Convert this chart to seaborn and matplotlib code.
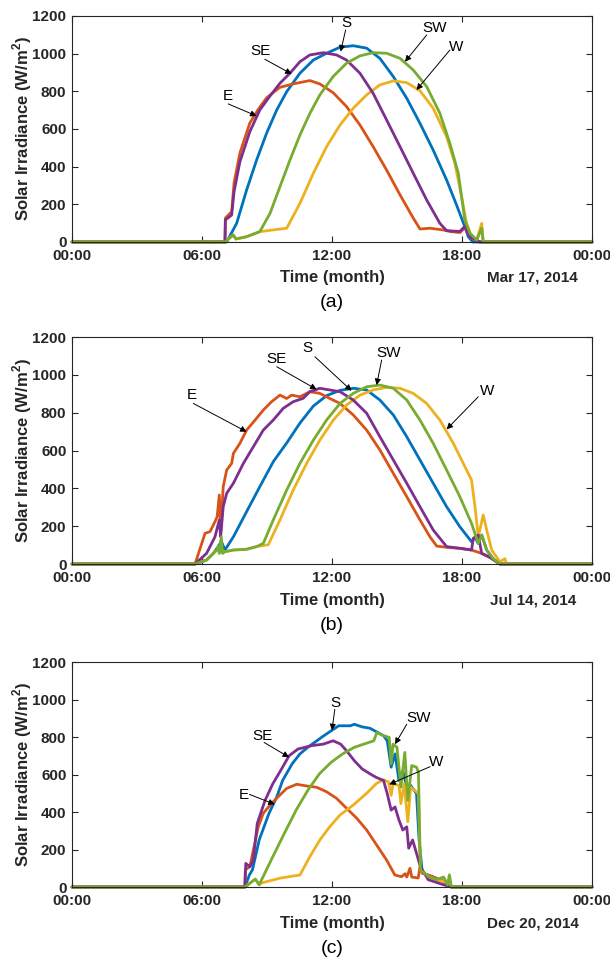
import matplotlib
matplotlib.use("Agg")
import matplotlib.pyplot as plt
import matplotlib.transforms as mtransforms
import pandas as pd
import seaborn as sns

# ---------------- data (hour of day, irradiance W/m^2) ----------------
DIRECTIONS = ["S", "E", "W", "SE", "SW"]          # drawing order
COLORS = {"S": "#0072BD", "E": "#D95319", "W": "#EDB120",
          "SE": "#7E2F8E", "SW": "#77AC30"}
XTICKS = [0, 6, 12, 18, 24]
XTICK_LABELS = ["00:00", "06:00", "12:00", "18:00", "00:00"]
YTICKS = [0, 200, 400, 600, 800, 1000, 1200]
DATES = ["Mar 17, 2014", "Jul 14, 2014", "Dec 20, 2014"]
PANEL_TAGS = ["(a)", "(b)", "(c)"]

MAR_S = [(0, 0), (7.14, 0), (7.6, 99), (8.06, 276), (8.52, 435), (8.98, 577), (9.45, 701),
         (9.91, 798), (10.52, 896), (11.14, 966), (11.75, 1002), (12.37, 1034), (12.98, 1042),
         (13.6, 1029), (14.21, 975), (14.83, 878), (15.45, 763), (16.06, 630), (16.67, 488),
         (17.29, 329), (17.75, 196), (18.13, 81), (18.29, 28), (18.5, 0), (24, 0)]
MAR_E = [(0, 0), (7.06, 0), (7.08, 127), (7.37, 161), (7.48, 313), (7.75, 472), (8.21, 632),
         (8.58, 701), (8.98, 765), (9.28, 793), (9.6, 821), (10.2, 839), (10.98, 857),
         (11.44, 839), (12.05, 793), (12.67, 719), (13.29, 621), (13.9, 506), (14.52, 382),
         (15.14, 250), (15.75, 127), (16.06, 69), (16.52, 73), (17.12, 64), (17.5, 55),
         (17.9, 50), (18.13, 75), (18.4, 25), (18.8, 0), (24, 0)]
MAR_W = [(0, 0), (7.06, 0), (7.44, 37), (7.57, 16), (8.06, 28), (8.67, 55), (9.91, 73),
         (10.52, 205), (11.14, 365), (11.75, 506), (12.37, 621), (12.98, 710), (13.6, 781),
         (14.21, 834), (14.83, 855), (15.45, 846), (16.06, 803), (16.67, 710), (17.29, 559),
         (17.67, 418), (17.98, 241), (18.21, 99), (18.44, 28), (18.68, 11), (18.91, 99),
         (18.98, 0), (24, 0)]
MAR_SE = [(0, 0), (7.06, 0), (7.08, 117), (7.37, 143), (7.48, 267), (7.75, 426), (8.21, 586),
          (8.67, 701), (9.14, 775), (9.6, 843), (10.06, 896), (10.52, 957), (10.98, 993),
          (11.6, 1005), (12.21, 993), (12.67, 966), (13.29, 896), (13.9, 789), (14.52, 648),
          (15.14, 506), (15.75, 365), (16.37, 223), (16.98, 99), (17.29, 60), (17.9, 56),
          (18.13, 83), (18.37, 28), (18.83, 0), (24, 0)]
MAR_SW = [(0, 0), (7.06, 0), (7.44, 37), (7.57, 16), (8.06, 28), (8.67, 55), (9.14, 152),
          (9.6, 294), (10.06, 435), (10.52, 568), (10.98, 683), (11.44, 781), (12.05, 878),
          (12.67, 949), (13.29, 988), (13.9, 1005), (14.52, 1002), (15.14, 975), (15.75, 913),
          (16.37, 825), (16.98, 683), (17.44, 524), (17.83, 365), (17.98, 241), (18.13, 117),
          (18.37, 46), (18.68, 11), (18.91, 73), (18.98, 0), (24, 0)]

JUL_S = [(0, 0), (5.68, 0), (6.21, 21), (6.52, 56), (6.75, 92), (6.89, 120), (7.06, 74),
         (7.45, 144), (8.06, 277), (8.67, 409), (9.29, 541), (9.91, 640), (10.52, 745),
         (11.14, 835), (11.75, 890), (12.37, 918), (12.98, 929), (13.6, 920), (14.21, 867),
         (14.83, 788), (15.45, 673), (16.06, 550), (16.67, 427), (17.29, 303), (17.9, 197),
         (18.44, 118), (18.6, 140), (18.75, 109), (18.91, 153), (19.14, 74), (19.44, 28),
         (19.75, 0), (24, 0)]
JUL_E = [(0, 0), (5.68, 0), (6.14, 162), (6.37, 171), (6.6, 224), (6.7, 250), (6.8, 365),
         (6.86, 162), (6.98, 409), (7.14, 497), (7.37, 532), (7.45, 585), (7.75, 638),
         (8.06, 708), (8.45, 761), (8.83, 814), (9.21, 858), (9.6, 893), (9.91, 875),
         (10.14, 893), (10.52, 884), (10.98, 911), (11.44, 902), (11.9, 875), (12.37, 849),
         (12.98, 788), (13.6, 708), (14.21, 603), (14.83, 479), (15.45, 356), (16.06, 233),
         (16.52, 144), (16.83, 95), (17.29, 88), (17.9, 83), (18.44, 74), (18.91, 56),
         (19.29, 35), (19.75, 0), (24, 0)]
JUL_W = [(0, 0), (5.68, 0), (6.21, 21), (6.52, 56), (6.75, 80), (7.06, 65), (7.45, 74),
         (8.06, 78), (8.52, 92), (9.06, 102), (9.6, 233), (10.21, 391), (10.83, 532),
         (11.44, 655), (12.06, 761), (12.67, 840), (13.29, 893), (13.9, 920), (14.52, 934),
         (15.14, 929), (15.75, 902), (16.37, 849), (16.98, 761), (17.6, 638), (18.21, 497),
         (18.44, 444), (18.6, 303), (18.75, 144), (18.98, 259), (19.14, 180), (19.37, 74),
         (19.75, 12), (19.98, 28), (20.06, 0), (24, 0)]
JUL_SE = [(0, 0), (5.68, 0), (6.21, 56), (6.6, 144), (6.8, 233), (6.86, 144), (6.98, 303),
          (7.14, 374), (7.45, 427), (7.91, 532), (8.37, 620), (8.83, 708), (9.29, 761),
          (9.75, 823), (10.21, 858), (10.67, 876), (10.98, 911), (11.44, 929), (11.9, 920),
          (12.37, 911), (12.98, 867), (13.6, 797), (14.21, 673), (14.83, 550), (15.45, 427),
          (16.06, 303), (16.67, 180), (17.29, 92), (17.9, 83), (18.44, 74), (18.52, 136),
          (18.75, 153), (18.91, 56), (19.29, 35), (19.75, 0), (24, 0)]
JUL_SW = [(0, 0), (5.68, 0), (6.21, 21), (6.52, 56), (6.68, 74), (6.75, 92), (6.8, 56),
          (6.89, 144), (6.95, 56), (7.06, 65), (7.45, 74), (8.06, 78), (8.52, 92), (8.83, 109),
          (9.29, 233), (9.91, 391), (10.52, 532), (11.14, 655), (11.75, 761), (12.37, 849),
          (12.98, 902), (13.6, 937), (14.21, 946), (14.83, 929), (15.45, 867), (16.06, 761),
          (16.67, 638), (17.29, 497), (17.9, 356), (18.44, 215), (18.75, 109), (18.91, 153),
          (19.14, 74), (19.44, 28), (19.75, 0), (24, 0)]

DEC_S = [(0, 0), (7.98, 0), (8.19, 65), (8.33, 92), (8.64, 251), (9.09, 392), (9.45, 480),
         (9.72, 568), (10.16, 657), (10.52, 710), (10.88, 745), (11.24, 775), (11.6, 805),
         (11.96, 833), (12.31, 860), (12.85, 860), (13.03, 868), (13.39, 854), (13.75, 847),
         (14.02, 830), (14.38, 807), (14.55, 780), (14.73, 639), (14.91, 710), (15.09, 568),
         (15.27, 621), (15.45, 533), (15.63, 542), (15.9, 498), (16.02, 251), (16.17, 74),
         (16.62, 56), (17.15, 30), (17.42, 7), (17.51, 0), (24, 0)]
DEC_E = [(0, 0), (7.98, 0), (8.0, 91), (8.21, 108), (8.37, 197), (8.6, 322), (8.83, 393),
         (9.21, 446), (9.6, 491), (9.91, 526), (10.37, 548), (10.83, 539), (11.29, 532),
         (11.75, 508), (12.21, 473), (12.67, 420), (13.14, 367), (13.6, 304), (14.06, 224),
         (14.52, 144), (14.9, 64), (15.21, 55), (15.37, 71), (15.45, 53), (15.6, 100),
         (15.68, 53), (15.98, 48), (16.06, 108), (16.17, 74), (16.62, 56), (17.15, 30),
         (17.51, 0), (24, 0)]
DEC_W = [(0, 0), (7.98, 0), (8.46, 42), (8.64, 12), (8.73, 21), (9.63, 48), (10.52, 64),
         (10.98, 162), (11.44, 251), (11.9, 322), (12.37, 384), (12.98, 437), (13.6, 500),
         (14.06, 553), (14.38, 572), (14.61, 560), (14.73, 489), (14.82, 551), (15.09, 542),
         (15.18, 445), (15.33, 551), (15.5, 348), (15.63, 533), (15.9, 507), (15.99, 498),
         (16.08, 92), (16.44, 56), (16.8, 39), (17.15, 30), (17.51, 0), (24, 0)]
DEC_SE = [(0, 0), (7.98, 0), (8.02, 126), (8.21, 108), (8.37, 144), (8.55, 339), (8.91, 462),
          (9.27, 551), (9.63, 621), (10.02, 700), (10.43, 736), (11.06, 754), (11.6, 762),
          (12.05, 780), (12.4, 762), (12.67, 727), (13.03, 674), (13.39, 630), (13.75, 604),
          (14.02, 586), (14.38, 568), (14.55, 498), (14.73, 410), (14.91, 427), (15.09, 357),
          (15.27, 304), (15.45, 321), (15.54, 207), (15.72, 251), (15.9, 180), (16.08, 109),
          (16.44, 39), (17.15, 12), (17.51, 0), (24, 0)]
DEC_SW = [(0, 0), (7.98, 0), (8.46, 42), (8.64, 12), (9.27, 162), (9.8, 286), (10.34, 409),
          (10.88, 515), (11.42, 604), (11.96, 665), (12.49, 710), (13.03, 745), (13.57, 766),
          (13.93, 780), (14.07, 824), (14.38, 807), (14.64, 798), (14.73, 657), (14.82, 762),
          (15.0, 745), (15.18, 533), (15.36, 718), (15.5, 462), (15.68, 648), (15.9, 639),
          (15.99, 612), (16.08, 92), (16.44, 56), (16.8, 39), (17.15, 53), (17.33, 12),
          (17.42, 65), (17.51, 0), (24, 0)]

PANELS = [
    {"S": MAR_S, "E": MAR_E, "W": MAR_W, "SE": MAR_SE, "SW": MAR_SW},
    {"S": JUL_S, "E": JUL_E, "W": JUL_W, "SE": JUL_SE, "SW": JUL_SW},
    {"S": DEC_S, "E": DEC_E, "W": DEC_W, "SE": DEC_SE, "SW": DEC_SW},
]

# annotation: label, text position, arrow tail, arrow head (hour, W/m^2)
MAR_NOTES = [("S", (12.67, 1165), (12.63, 1126), (12.4, 1011)),
             ("SE", (8.72, 1016), (8.9, 970), (10.14, 892)),
             ("E", (7.17, 775), (7.21, 733), (8.52, 669)),
             ("SW", (16.75, 1135), (16.37, 1099), (15.37, 957)),
             ("W", (17.75, 1037), (17.44, 1019), (15.9, 807))]
JUL_NOTES = [("E", (5.52, 893), (5.6, 849), (8.06, 699)),
             ("SE", (9.45, 1082), (9.45, 1043), (11.29, 923)),
             ("S", (10.87, 1140), (11.21, 1096), (12.9, 916)),
             ("SW", (14.6, 1114), (14.29, 1078), (14.06, 946)),
             ("W", (19.14, 916), (18.75, 884), (17.29, 712))]
DEC_NOTES = [("S", (12.17, 983), (12.13, 948), (12.0, 836)),
             ("SE", (8.78, 806), (8.87, 771), (10.02, 692)),
             ("E", (7.92, 489), (8.19, 494), (9.36, 441)),
             ("SW", (15.99, 904), (15.45, 868), (14.91, 762)),
             ("W", (16.79, 665), (16.53, 642), (14.64, 547))]
NOTES = [MAR_NOTES, JUL_NOTES, DEC_NOTES]

# ---------------- styling ----------------
sns.set_style("ticks")
plt.rcParams["font.family"] = ["Liberation Sans", "DejaVu Sans"]
plt.rcParams["mathtext.fontset"] = "custom"
plt.rcParams["mathtext.rm"] = "Liberation Sans"
plt.rcParams["mathtext.bf"] = "Liberation Sans:bold"

DARK = "#262626"
fig = plt.figure(figsize=(6.1, 9.61), dpi=100)

AX_LEFT, AX_WIDTH = 0.118, 0.8525
BOTTOMS = [0.7482, 0.4131, 0.0770]
HEIGHTS = [0.2352, 0.2362, 0.2341]

for i, panel in enumerate(PANELS):
    rows = []
    for d in DIRECTIONS:
        for h, v in panel[d]:
            rows.append({"hour": h, "value": v, "dir": d})
    df = pd.DataFrame(rows)

    ax = fig.add_axes([AX_LEFT, BOTTOMS[i], AX_WIDTH, HEIGHTS[i]])
    sns.lineplot(data=df, x="hour", y="value", hue="dir", hue_order=DIRECTIONS,
                 palette=COLORS, estimator=None, sort=False, linewidth=2.0,
                 legend=False, ax=ax)
    for ln in ax.lines:
        ln.set_clip_on(False)
        ln.set_solid_joinstyle("round")

    ax.set_xlim(0, 24)
    ax.set_ylim(0, 1200)
    ax.set_xticks(XTICKS)
    ax.set_xticklabels(XTICK_LABELS)
    ax.set_yticks(YTICKS)
    ax.tick_params(direction="in", top=True, right=True, length=4, width=0.8,
                   labelsize=11, colors=DARK)
    ax.tick_params(axis="x", pad=5)
    ax.tick_params(axis="y", pad=4)
    for lab in ax.get_xticklabels() + ax.get_yticklabels():
        lab.set_fontweight("bold")
    for sp in ax.spines.values():
        sp.set_visible(True)
        sp.set_color(DARK)
        sp.set_linewidth(0.8)

    ax_h_px = HEIGHTS[i] * 961
    ax.set_ylabel(r"Solar Irradiance (W/m$^{\mathbf{2}}$)", fontsize=12,
                  fontweight="bold", color=DARK, va="center")
    ax.yaxis.set_label_coords(-50 / 520, 0.5)
    ax.set_xlabel("Time (month)", fontsize=12, fontweight="bold", color=DARK, va="center")
    ax.xaxis.set_label_coords(0.5, -36 / ax_h_px)

    trans = mtransforms.blended_transform_factory(ax.transData, ax.transAxes)
    ax.text(21.27, -36 / ax_h_px, DATES[i], transform=trans, ha="center", va="center",
            fontsize=11, fontweight="bold", color=DARK)
    ax.text(0.5, -61 / ax_h_px, PANEL_TAGS[i], transform=ax.transAxes, ha="center",
            va="center", fontsize=14, color="black")

    for label, tpos, tail, head in NOTES[i]:
        ax.annotate("", xy=head, xytext=tail,
                    arrowprops=dict(arrowstyle="-|>", color="black", lw=0.7,
                                    mutation_scale=9, shrinkA=0, shrinkB=0))
        ax.text(tpos[0], tpos[1], label, ha="center", va="center", fontsize=11,
                color="black")

fig.savefig("out.png", dpi=100)
